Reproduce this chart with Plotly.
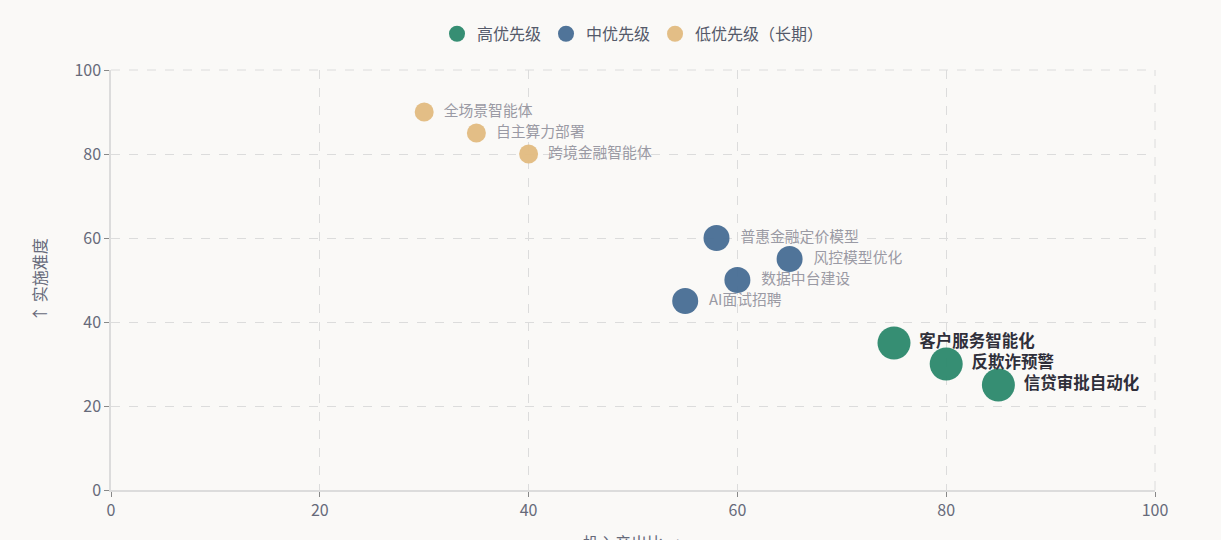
import plotly.graph_objects as go

FONT = "Noto Sans CJK SC, Noto Sans, sans-serif"

high_names = ['客户服务智能化', '反欺诈预警', '信贷审批自动化']
high_x = [75, 80, 85]
high_y = [35, 30, 25]

mid_names = ['普惠金融定价模型', '风控模型优化', '数据中台建设', 'AI面试招聘']
mid_x = [58, 65, 60, 55]
mid_y = [60, 55, 50, 45]

low_names = ['全场景智能体', '自主算力部署', '跨境金融智能体']
low_x = [30, 35, 40]
low_y = [90, 85, 80]

groups = [
    ('高优先级', high_names, high_x, high_y, '#2f8a6e', 33, ' ',
     dict(size=16.5, color='#2f2f3a', family=FONT, weight='bold')),
    ('中优先级', mid_names, mid_x, mid_y, '#4a6f96', 26, '  ',
     dict(size=14.8, color='#9a9aa4', family=FONT)),
    ('低优先级（长期）', low_names, low_x, low_y, '#e2bc82', 19, '  ',
     dict(size=14.8, color='#9a9aa4', family=FONT)),
]

fig = go.Figure()
for name, labels, xs, ys, color, size, pad, tfont in groups:
    fig.add_trace(go.Scatter(
        x=xs, y=ys, mode='markers+text', name=name,
        text=[pad + t for t in labels], textposition='middle right',
        textfont=tfont,
        marker=dict(size=size, color=color, opacity=0.97, line=dict(width=0)),
        hovertemplate='%{text}<br>投入产出比: %{x}<br>实施难度: %{y}<extra></extra>',
    ))

axis_common = dict(
    range=[0, 100], dtick=20, showgrid=True, gridcolor='#dcdcdc', griddash='dash',
    gridwidth=1, zeroline=False, showline=True, linecolor='#dcdcdc', linewidth=1.5,
    ticks='outside', ticklen=5, tickcolor='#888', tickfont=dict(size=16, color='#666a7a', family=FONT),
    title_font=dict(size=16, color='#666a7a', family=FONT), automargin=False,
)

fig.update_xaxes(**axis_common)
fig.update_yaxes(**axis_common, title_text='↑ 实施难度', title_standoff=24)

# x title sits low, partly below the page edge as in the original
fig.add_annotation(text='投入产出比 →', xref='paper', yref='paper', x=0.5, y=0,
                   xanchor='center', yanchor='top', yshift=-38, showarrow=False,
                   font=dict(size=16, color='#666a7a', family=FONT))

# dashed frame on the top and right sides of the plot
fig.add_shape(type='line', xref='paper', yref='paper', x0=0, x1=1, y0=1, y1=1,
              line=dict(color='#dcdcdc', width=1, dash='dash'))
fig.add_shape(type='line', xref='paper', yref='paper', x0=1, x1=1, y0=0, y1=1,
              line=dict(color='#dcdcdc', width=1, dash='dash'))

fig.update_layout(
    width=1221, height=540,
    margin=dict(l=111, r=66, t=70, b=50),
    paper_bgcolor='#faf9f7', plot_bgcolor='#faf9f7',
    font=dict(family=FONT, color='#666a7a'),
    showlegend=True,
    legend=dict(orientation='h', x=0.5, xanchor='center', y=1.086, yanchor='middle',
                font=dict(size=16, color='#555a6a', family=FONT), itemsizing='trace',
                itemwidth=30),
)

fig.write_html("out.html", config={'displayModeBar': False},
               post_script="document.body.style.margin='0';document.body.style.background='#faf9f7';")
